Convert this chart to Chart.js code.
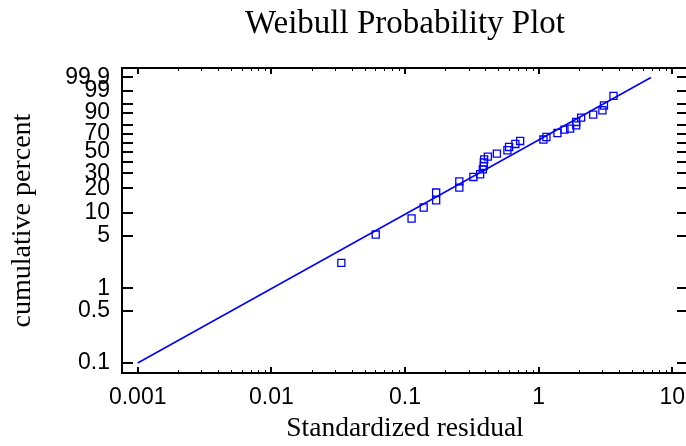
<!DOCTYPE html>
<html>
<head>
<meta charset="utf-8">
<script src="https://cdn.jsdelivr.net/npm/chart.js@4.4.1/dist/chart.umd.min.js"></script>
<style>
html, body { margin: 0; padding: 0; background: #fff; overflow: hidden; }
#wrap { width: 700px; height: 446px; }
</style>
</head>
<body>
<div id="wrap"><canvas id="plot" width="700" height="446"></canvas></div>
<script>
// standardized residuals (x) and their cumulative percent (y)
const residuals = [0.0334, 0.0604, 0.112, 0.138, 0.171, 0.171, 0.255, 0.255, 0.325, 0.365,
    0.382, 0.389, 0.389, 0.391, 0.417, 0.487, 0.584, 0.601, 0.670, 0.727,
    1.086, 1.144, 1.383, 1.560, 1.721, 1.909, 1.909, 2.08, 2.56, 3.00, 3.08, 3.63];
const cumPercent = [2.2, 5.2, 8.4, 11.6, 14.3, 17.8, 20.4, 24.2, 27.2, 29.2,
    33.1, 36.0, 39.1, 42.2, 44.9, 48.0, 51.6, 55.2, 58.6, 62.0,
    63.6, 66.5, 71.0, 74.7, 75.8, 79.2, 82.5, 86.4, 88.8, 91.8, 94.5, 98.0];

// fitted Weibull line end points
const fitX = [0.001, 6.92];
const fitPercent = [0.1, 99.9];

const yTickPercents = [0.1, 0.5, 1, 5, 10, 20, 30, 40, 50, 60, 70, 80, 90, 95, 99, 99.9];
const yTickLabels = ['0.1', '0.5', '1', '5', '10', '20', '30', '', '50', '', '70', '', '90', '', '99', '99.9'];
const xTickValues = [0.001, 0.01, 0.1, 1, 10];
const xTickLabels = ['0.001', '0.01', '0.1', '1', '10'];

const BLUE = 'rgb(0,0,255)';

// weibull probability scale: ln(-ln(1-p))
function weib(pct) {
    return Math.log(-Math.log(1 - pct / 100));
}

var points = residuals.map(function (r, i) {
    return { x: r, y: weib(cumPercent[i]) };
});
var fitLine = fitX.map(function (x, i) {
    return { x: x, y: weib(fitPercent[i]) };
});

// box around the plot with ticks pointing inwards, like the original
const frameTicks = {
    id: 'frameTicks',
    afterDatasetsDraw(chart) {
        const { ctx, chartArea: a, scales } = chart;
        ctx.save();
        ctx.strokeStyle = '#000';
        ctx.lineWidth = 2;
        ctx.strokeRect(a.left, a.top, a.right - a.left, a.bottom - a.top);
        scales.y.ticks.forEach(function (t) {
            const y = Math.round(scales.y.getPixelForValue(t.value));
            ctx.beginPath();
            ctx.moveTo(a.left, y);
            ctx.lineTo(a.left + 11, y);
            ctx.moveTo(a.right, y);
            ctx.lineTo(a.right - 11, y);
            ctx.stroke();
        });
        scales.x.ticks.forEach(function (t) {
            const x = Math.round(scales.x.getPixelForValue(t.value)) + (t.major ? 0 : 0.5);
            const len = t.major ? 6 : 3;
            ctx.lineWidth = t.major ? 2 : 1;
            ctx.beginPath();
            ctx.moveTo(x, a.bottom);
            ctx.lineTo(x, a.bottom - len);
            ctx.moveTo(x, a.top);
            ctx.lineTo(x, a.top + len);
            ctx.stroke();
        });
        ctx.restore();
    }
};

var options = {
    responsive: false,
    animation: false,
    layout: { padding: { left: 0, right: 12, top: 0, bottom: 0 } },
    scales: {
        x: {
            type: 'logarithmic',
            min: Math.pow(10, -3.1175),
            max: Math.pow(10, 1.1175),
            grid: { display: false, drawTicks: false },
            border: { display: false },
            afterBuildTicks: function (scale) {
                const ticks = [];
                for (let e = -3; e <= 1; e++) {
                    for (let d = 1; d <= 9; d++) {
                        const v = d * Math.pow(10, e);
                        if (v <= scale.max) ticks.push({ value: v, major: d === 1 });
                    }
                }
                scale.ticks = ticks;
            },
            afterFit: function (scale) { scale.height = 73; },
            ticks: {
                autoSkip: false,
                maxRotation: 0,
                padding: 11,
                color: '#000',
                font: { family: 'Liberation Sans', size: 23 },
                callback: function (value) {
                    const i = xTickValues.findIndex(function (v) { return Math.abs(v - value) / v < 1e-6; });
                    return i >= 0 ? xTickLabels[i] : '';
                }
            },
            title: {
                display: true,
                text: 'Standardized residual',
                color: '#000',
                font: { family: 'Liberation Serif', size: 27.5 },
                padding: { top: 0, bottom: 1 }
            }
        },
        y: {
            type: 'linear',
            min: -7.217,
            max: 2.226,
            grid: { display: false, drawTicks: false },
            border: { display: false },
            afterBuildTicks: function (scale) {
                scale.ticks = yTickPercents.map(function (p) { return { value: weib(p) }; });
            },
            afterFit: function (scale) { scale.width = 122; },
            ticks: {
                autoSkip: false,
                padding: 12,
                color: '#000',
                font: { family: 'Liberation Sans', size: 23 },
                callback: function (value, index) {
                    return yTickLabels[index];
                }
            },
            title: {
                display: true,
                text: 'cumulative percent',
                color: '#000',
                font: { family: 'Liberation Serif', size: 28 },
                padding: { top: 6, bottom: 0 }
            }
        }
    },
    plugins: {
        legend: { display: false },
        tooltip: { enabled: false },
        title: {
            display: true,
            fullSize: false,
            text: 'Weibull Probability Plot',
            color: '#000',
            font: { family: 'Liberation Serif', size: 33, weight: 'normal' },
            padding: { top: 5, bottom: 23.4 }
        }
    }
};

var config = {
    type: 'scatter',
    data: {
        datasets: [{
            data: points,
            pointStyle: 'rect',
            pointRadius: 5,
            pointBorderWidth: 1.3,
            borderColor: BLUE,
            backgroundColor: 'rgba(0,0,0,0)',
            showLine: false
        }, {
            data: fitLine,
            showLine: true,
            pointRadius: 0,
            borderColor: BLUE,
            borderWidth: 1.5,
            fill: false
        }]
    },
    options: options,
    plugins: [frameTicks]
};

var plotChart = new Chart(document.getElementById('plot'), config);
</script>
</body>
</html>
